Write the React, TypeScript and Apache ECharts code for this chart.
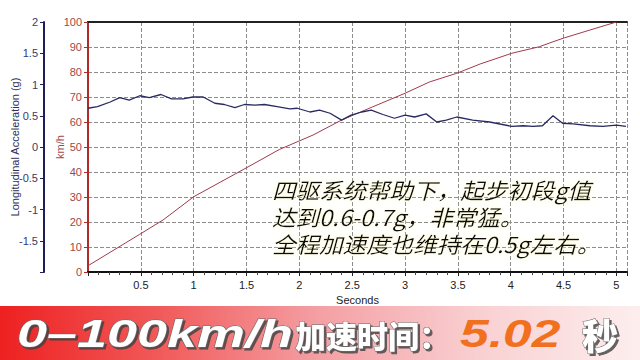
import React, { useEffect, useRef } from "react";
import * as echarts from "echarts";

// Longitudinal acceleration (g) vs time (s)
const accT = [0, 0.09, 0.21, 0.3, 0.39, 0.49, 0.58, 0.69, 0.79, 0.9, 0.99, 1.09, 1.2, 1.29, 1.39, 1.48, 1.58, 1.67, 1.79, 1.91, 1.98, 2.1, 2.19, 2.29, 2.4, 2.49, 2.59, 2.68, 2.79, 2.9, 3.0, 3.09, 3.2, 3.3, 3.39, 3.49, 3.64, 3.8, 4.01, 4.12, 4.21, 4.3, 4.4, 4.49, 4.59, 4.75, 4.87, 5.0, 5.09];
const accG = [0.62, 0.645, 0.72, 0.79, 0.75, 0.82, 0.79, 0.84, 0.77, 0.77, 0.8, 0.8, 0.7, 0.68, 0.63, 0.68, 0.67, 0.68, 0.645, 0.61, 0.62, 0.56, 0.59, 0.54, 0.43, 0.51, 0.56, 0.59, 0.52, 0.46, 0.51, 0.48, 0.53, 0.4, 0.43, 0.48, 0.43, 0.4, 0.33, 0.34, 0.33, 0.34, 0.5, 0.38, 0.37, 0.34, 0.33, 0.35, 0.33];

// Speed (km/h) vs time (s)
const spdT = [0, 0.49, 0.71, 1.0, 1.25, 1.5, 1.81, 2.13, 2.4, 2.69, 3.0, 3.23, 3.49, 3.71, 4.01, 4.27, 4.4, 4.51, 4.75, 5.0];
const spdV = [2.5, 15.1, 20.8, 30.1, 35.9, 41.7, 49, 54.8, 60.8, 66, 71.5, 76, 79.5, 83.2, 87.5, 90.1, 92.1, 93.7, 96.8, 100];

const noteLines = ["四驱系统帮助下，起步初段g值", "达到0.6-0.7g，非常猛。", "全程加速度也维持在0.5g左右。"];
const bannerParts = ["0–100km/h", "加速时间：", "5.02", "秒"];

export default function App() {
  const ref = useRef<HTMLDivElement>(null);
  useEffect(() => {
    if (!ref.current) return;
    const chart = echarts.init(ref.current, undefined, { renderer: "svg" });
    const latin = "'Liberation Sans', Arial, sans-serif";
    const cjk = "'Noto Sans CJK SC', sans-serif";
    const isHalf = (v: number) => Math.abs(v * 2 - Math.round(v * 2)) < 1e-6;
    const gridDash = { show: true, lineStyle: { type: "dashed" as const, color: "#8c8c8c", width: 1 } };
    const bannerShadow = {
      stroke: "#6a6a6a",
      lineWidth: 1,
      textShadowColor: "rgba(60,60,60,0.8)",
      textShadowOffsetX: 2,
      textShadowOffsetY: 2,
      textShadowBlur: 1,
    };
    chart.setOption({
      animation: false,
      backgroundColor: "#ffffff",
      grid: { left: 88, right: 13, top: 22, bottom: 88, containLabel: false, outerBoundsMode: "none" },
      xAxis: [
        {
          type: "value",
          min: 0,
          max: 5.1,
          interval: 0.5,
          position: "bottom",
          axisLine: { show: true, onZero: false, lineStyle: { color: "#111", width: 2 } },
          axisTick: { show: true, length: 4, lineStyle: { color: "#222" } },
          minorTick: { show: true, splitNumber: 5, length: 3, lineStyle: { color: "#444" } },
          axisLabel: {
            color: "#222",
            fontSize: 11,
            fontFamily: latin,
            margin: 7,
            formatter: (v: number) => (v === 0 || !isHalf(v) ? "" : String(v)),
          },
          splitLine: gridDash,
          name: "Seconds",
          nameLocation: "middle",
          nameGap: 18,
          nameTextStyle: { color: "#222", fontSize: 11, fontFamily: latin },
        },
        {
          type: "value",
          min: 0,
          max: 5.1,
          position: "top",
          axisLine: { show: true, onZero: false, lineStyle: { color: "#222", width: 2 } },
          axisTick: { show: false },
          axisLabel: { show: false },
          splitLine: { show: false },
        },
      ],
      yAxis: [
        {
          type: "value",
          min: 0,
          max: 100,
          interval: 10,
          position: "left",
          axisLine: { show: true, onZero: false, lineStyle: { color: "#b02a2a", width: 2 } },
          axisTick: { show: true, length: 4, lineStyle: { color: "#b02a2a" } },
          axisLabel: { color: "#a04848", fontSize: 11, fontFamily: latin, margin: 6 },
          splitLine: gridDash,
          name: "km/h",
          nameLocation: "middle",
          nameGap: 23,
          nameMoveOverlap: false,
          nameTextStyle: { color: "#a04848", fontSize: 11, fontFamily: latin },
        },
        {
          type: "value",
          min: -2,
          max: 2,
          interval: 0.5,
          position: "left",
          offset: 44,
          axisLine: { show: true, onZero: false, lineStyle: { color: "#1e1e5a", width: 2 } },
          axisTick: { show: true, length: 4, lineStyle: { color: "#1e1e5a" } },
          axisLabel: {
            color: "#3a3a66",
            fontSize: 11,
            fontFamily: latin,
            margin: 6,
            formatter: (v: number) => (v === -2 ? "" : String(v)),
          },
          splitLine: { show: false },
          name: "Longitudinal Acceleration (g)",
          nameLocation: "middle",
          nameGap: 24,
          nameMoveOverlap: false,
          nameTextStyle: { color: "#30305a", fontSize: 11, fontFamily: latin },
        },
      ],
      series: [
        {
          type: "line",
          xAxisIndex: 0,
          yAxisIndex: 0,
          symbol: "none",
          data: spdT.map((t, i) => [t, spdV[i]]),
          lineStyle: { color: "#a03a4a", width: 1 },
          z: 3,
        },
        {
          type: "line",
          xAxisIndex: 0,
          yAxisIndex: 1,
          symbol: "none",
          data: accT.map((t, i) => [t, accG[i]]),
          lineStyle: { color: "#2a2a62", width: 1.3 },
          z: 4,
        },
      ],
      graphic: [
        ...noteLines.map((line, i) => ({
          type: "text",
          x: 272,
          y: 190 + i * 27,
          scaleX: 1.07,
          z: 10,
          style: {
            text: line,
            fill: "#111",
            fontSize: 22,
            fontFamily: cjk,
            fontStyle: "italic",
            verticalAlign: "middle",
            textShadowColor: "rgba(255,250,200,1)",
            textShadowBlur: 6,
          },
        })),
        {
          type: "rect",
          shape: { x: 0, y: 306, width: 640, height: 54 },
          z: 10,
          style: {
            fill: new echarts.graphic.LinearGradient(0, 0, 1, 0, [
              { offset: 0, color: "#ee2020" },
              { offset: 0.25, color: "#f15a5a" },
              { offset: 0.5, color: "#f4a0a4" },
              { offset: 0.75, color: "#f9d0d2" },
              { offset: 1, color: "#fdeeee" },
            ]),
          },
        },
        {
          type: "text",
          x: 17,
          y: 334,
          scaleX: 1.42,
          z: 11,
          style: {
            text: bannerParts[0],
            fill: "#ffffff",
            fontSize: 38,
            fontWeight: 900,
            fontStyle: "italic",
            fontFamily: latin,
            verticalAlign: "middle",
            ...bannerShadow,
          },
        },
        {
          type: "text",
          x: 295,
          y: 334,
          z: 11,
          style: {
            text: bannerParts[1],
            fill: "#ffffff",
            fontSize: 31,
            fontWeight: 900,
            fontFamily: cjk,
            verticalAlign: "middle",
            ...bannerShadow,
          },
        },
        {
          type: "text",
          x: 460,
          y: 334,
          scaleX: 1.36,
          z: 11,
          style: {
            text: bannerParts[2],
            fill: "#f07020",
            fontSize: 38,
            fontWeight: 900,
            fontStyle: "italic",
            fontFamily: latin,
            verticalAlign: "middle",
          },
        },
        {
          type: "text",
          x: 582,
          y: 334,
          z: 11,
          style: {
            text: bannerParts[3],
            fill: "#ffffff",
            fontSize: 36,
            fontWeight: 900,
            fontFamily: cjk,
            verticalAlign: "middle",
            ...bannerShadow,
          },
        },
      ],
    });
    return () => chart.dispose();
  }, []);
  return <div ref={ref} style={{ width: 640, height: 360, position: "fixed", left: 0, top: 0 }} />;
}
